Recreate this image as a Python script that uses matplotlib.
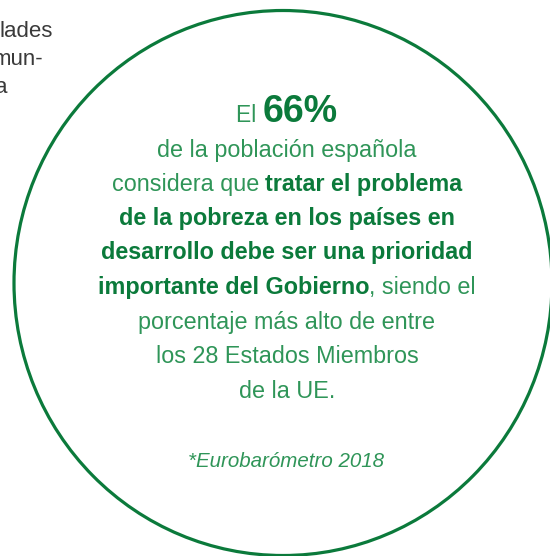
import matplotlib
matplotlib.use("Agg")
import matplotlib.pyplot as plt
from matplotlib.patches import Ellipse

W, H = 550, 556
CX = 287

GREEN_DARK = "#0b7a3b"
GREEN_TEXT = "#2f9558"
GRAY = "#3a3a3a"

plt.rcParams["font.family"] = ["Liberation Sans", "DejaVu Sans"]

# text lines of the callout: list of (text, bold) pieces, baseline y
lines = [
    ([("de la población española", False)], 157),
    ([("considera que ", False), ("tratar el problema", True)], 191),
    ([("de la pobreza en los países en", True)], 225),
    ([("desarrollo debe ser una prioridad", True)], 259),
    ([("importante del Gobierno", True), (", siendo el", False)], 294),
    ([("porcentaje más alto de entre", False)], 329),
    ([("los 28 Estados Miembros", False)], 363),
    ([("de la UE.", False)], 398),
]
# tail of the neighbouring paragraph, cut at the left edge
side_text = ["lades", "mun-", "a"]
side_right = [53, 43, 8]
side_base = [37, 65, 93]

fig = plt.figure(figsize=(W / 100, H / 100), dpi=100)
ax = fig.add_axes([0, 0, 1, 1])
ax.set_xlim(0, W)
ax.set_ylim(H, 0)
ax.axis("off")

ax.add_patch(Ellipse((283, 283), 538, 545, fill=False, ec=GREEN_DARK, lw=2.3))

for t, x, y in zip(side_text, side_right, side_base):
    ax.text(x, y, t, ha="right", va="baseline", fontsize=16, color=GRAY)

fig.canvas.draw()
renderer = fig.canvas.get_renderer()
inv = ax.transData.inverted()


def draw_line(pieces, y):
    items = []
    for txt, bold, size, color in pieces:
        t = ax.text(0, y, txt, ha="left", va="baseline", fontsize=size,
                    fontweight="bold" if bold else "normal", color=color)
        bb = t.get_window_extent(renderer)
        w = inv.transform((bb.x1, 0))[0] - inv.transform((bb.x0, 0))[0]
        items.append((t, w))
    total = sum(w for _, w in items)
    x = CX - total / 2
    for t, w in items:
        t.set_x(x)
        x += w


draw_line([("El ", False, 16.5, GREEN_TEXT), ("66%", True, 27, GREEN_DARK)], 122)
for pieces, y in lines:
    draw_line([(txt, b, 16.8, GREEN_DARK if b else GREEN_TEXT) for txt, b in pieces], y)

ax.text(CX - 1, 467, "*Eurobarómetro 2018", ha="center", va="baseline",
        fontsize=14.8, style="italic", color=GREEN_TEXT)

fig.savefig("out.png", dpi=100)
